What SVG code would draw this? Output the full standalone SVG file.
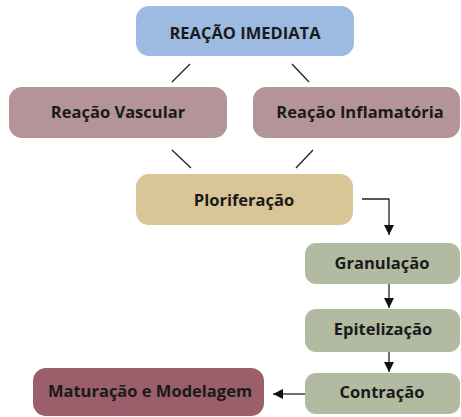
<svg xmlns="http://www.w3.org/2000/svg" width="461" height="417" viewBox="0 0 461 417">
<defs>
<style>
text{font-family:"Open Sans","Liberation Sans",sans-serif;font-weight:700;font-size:16.5px;fill:#1a1a1a;text-anchor:middle}
.ln{stroke:#222;stroke-width:1.3;fill:none}
</style>
<marker id="ah" viewBox="0 0 10 10" refX="10" refY="5" markerWidth="10" markerHeight="10" markerUnits="userSpaceOnUse" orient="auto">
<path d="M0,0 L10,5 L0,10 Z" fill="#111"/>
</marker>
</defs>
<rect width="461" height="417" fill="#fff"/>
<g id="connectors">
<line class="ln" x1="172" y1="82" x2="190" y2="64"/>
<line class="ln" x1="292" y1="64" x2="309" y2="82"/>
<line class="ln" x1="172" y1="150" x2="191" y2="168"/>
<line class="ln" x1="313" y1="150" x2="296" y2="168"/>
<path class="ln" d="M362,199 H389 V235" marker-end="url(#ah)"/>
<line class="ln" x1="389" y1="284" x2="389" y2="308" marker-end="url(#ah)"/>
<line class="ln" x1="389" y1="352" x2="389" y2="372" marker-end="url(#ah)"/>
<line class="ln" x1="305" y1="394" x2="273" y2="394" marker-end="url(#ah)"/>
</g>
<g id="reacao-imediata">
<rect x="136" y="6" width="218" height="50" rx="13" fill="#9dbae1"/>
<text x="245" y="39">REAÇÃO IMEDIATA</text>
</g>
<g id="reacao-vascular">
<rect x="9" y="87" width="218" height="51" rx="13" fill="#b59499"/>
<text x="118" y="118">Reação Vascular</text>
</g>
<g id="reacao-inflamatoria">
<rect x="253" y="87" width="207" height="51" rx="13" fill="#b59499"/>
<text x="360" y="118">Reação Inflamatória</text>
</g>
<g id="ploriferacao">
<rect x="136" y="174" width="217" height="51" rx="13" fill="#d9c596"/>
<text x="244" y="206">Ploriferação</text>
</g>
<g id="granulacao">
<rect x="305" y="243" width="155" height="41" rx="11" fill="#b2baa1"/>
<text x="382" y="269">Granulação</text>
</g>
<g id="epitelizacao">
<rect x="305" y="309" width="155" height="43" rx="11" fill="#b2baa1"/>
<text x="383" y="335">Epitelização</text>
</g>
<g id="contracao">
<rect x="305" y="373" width="155" height="41" rx="11" fill="#b2baa1"/>
<text x="382" y="398">Contração</text>
</g>
<g id="maturacao">
<rect x="33" y="368" width="231" height="48" rx="13" fill="#9a5f6b"/>
<text x="150" y="397">Maturação e Modelagem</text>
</g>
</svg>
